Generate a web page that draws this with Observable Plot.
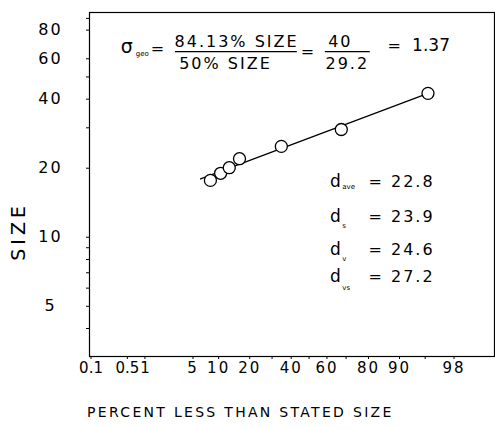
<!DOCTYPE html>
<html>
<head>
<meta charset="utf-8">
<script src="https://cdn.jsdelivr.net/npm/d3@7"></script>
<script src="https://cdn.jsdelivr.net/npm/@observablehq/plot@0.6"></script>
<style>
  html, body { margin: 0; padding: 0; background: white; }
  svg text { letter-spacing: 2px; }
</style>
</head>
<body>
<div id="chart"></div>
<script>
// ---- data ----
const percentLess = [8.1, 10.5, 12.9, 16.2, 34.7, 67.6, 95.4];
const sizes       = [17.7, 19.0, 20.1, 22.0, 24.9, 29.5, 42.4];

const fitPercent = [6.2, 95.4];
const fitSize    = [17.95, 42.4];

const xTickValues = [0.1, 0.5, 1, 5, 10, 20, 40, 60, 80, 90, 98];
const xTickLabels = ["0.1", "0.5", "1", "5", "10", "20", "40", "60", "80", "90", "98"];
const xMinorTicks = [30, 50, 70, 95];
const yTickValues = [5, 10, 20, 40, 60, 80];
const yTickLabels = ["5", "10", "20", "40", "60", "80"];
const yMinorTicks = [4, 6, 7, 8, 9, 30, 50, 90];

const xDomainPct = [0.093, 99.57];
const yDomain = [3.02, 95.5];

// annotation: sigma_geo formula
const formulaText = ["=", "84.13% SIZE", "50% SIZE", "=", "40", "29.2", "="];
const formulaPct  = [1.64, 15.2, 11.8, 49.6, 67.1, 70.6, 88.9];
const formulaSize = [66.6, 71.0, 57.2, 64.5, 71.0, 57.2, 68.5];
const sigma = "σ", sigmaPct = 0.51, sigmaSize = 67.9;
const sigmaSub = "geo", sigmaSubPct = 0.70, sigmaSubSize = 63.2;
const ratio = "1.37", ratioPct = 95.8, ratioSize = 68.5;
const fracBarLeft  = [2.91, 59.1];
const fracBarRight = [43.4, 80.7];
const fracBarSize  = 64.5;

// annotation: mean diameters
const dSubs   = ["ave", "s", "v", "vs"];
const dValues = ["= 22.8", "= 23.9", "= 24.6", "= 27.2"];
const dPct = 65.1, dSubPct = 68.1, dValuePct = 80.0;
const dSize    = [17.5, 12.3, 8.84, 6.74];
const dSubSize = [16.65, 11.25, 8.08, 6.04];

const xLabel = "PERCENT LESS THAN STATED SIZE";
const xLabelPct = 16.5;
const yLabel = "SIZE";
const yLabelSize = 7.9;

// ---- probability (normal quantile) transform ----
function probit(p) {
  const a = [-3.969683028665376e+01, 2.209460984245205e+02, -2.759285104469687e+02, 1.383577518672690e+02, -3.066479806614716e+01, 2.506628277459239e+00];
  const b = [-5.447609879822406e+01, 1.615858368580409e+02, -1.556989798598866e+02, 6.680131188771972e+01, -1.328068155288572e+01];
  const c = [-7.784894002430293e-03, -3.223964580411365e-01, -2.400758277161838e+00, -2.549732539343734e+00, 4.374664141464968e+00, 2.938163982698783e+00];
  const d = [7.784695709041462e-03, 3.224671290700398e-01, 2.445134137142996e+00, 3.754408661907416e+00];
  const pl = 0.02425, ph = 1 - pl;
  let q, r;
  if (p < pl) {
    q = Math.sqrt(-2 * Math.log(p));
    return (((((c[0]*q+c[1])*q+c[2])*q+c[3])*q+c[4])*q+c[5]) / ((((d[0]*q+d[1])*q+d[2])*q+d[3])*q+1);
  }
  if (p > ph) {
    q = Math.sqrt(-2 * Math.log(1 - p));
    return -(((((c[0]*q+c[1])*q+c[2])*q+c[3])*q+c[4])*q+c[5]) / ((((d[0]*q+d[1])*q+d[2])*q+d[3])*q+1);
  }
  q = p - 0.5; r = q * q;
  return (((((a[0]*r+a[1])*r+a[2])*r+a[3])*r+a[4])*r+a[5])*q / (((((b[0]*r+b[1])*r+b[2])*r+b[3])*r+b[4])*r+1);
}
const z = (pct) => probit(pct / 100);

const points = percentLess.map((p, i) => ({p, s: sizes[i]}));
const fit = fitPercent.map((p, i) => ({p, s: fitSize[i]}));

const chart = Plot.plot({
  width: 495,
  height: 429,
  marginLeft: 89,
  marginRight: 1,
  marginTop: 12,
  marginBottom: 73,
  style: {fontFamily: "'DejaVu Sans', sans-serif", fontSize: "16px", color: "black", background: "white"},
  x: {type: "linear", domain: xDomainPct.map(z)},
  y: {type: "log", domain: yDomain},
  marks: [
    Plot.frame({stroke: "black", strokeWidth: 1.2}),
    // tick marks
    Plot.axisX(xTickValues.concat(xMinorTicks).map(z), {tickSize: 3, label: null, tickFormat: () => ""}),
    Plot.axisY(yTickValues.concat(yMinorTicks), {tickSize: 3, label: null, tickFormat: () => ""}),
    // tick labels
    Plot.text(xTickValues, {x: d => z(d), frameAnchor: "bottom", dy: 16, text: (d, i) => xTickLabels[i], fontSize: 15, fill: "black"}),
    Plot.text(yTickValues, {y: d => d, frameAnchor: "left", dx: -39, text: (d, i) => yTickLabels[i], fontSize: 16, textAnchor: "middle", fill: "black"}),
    // fitted line and points
    Plot.line(fit, {x: d => z(d.p), y: "s", stroke: "black", strokeWidth: 1.3}),
    Plot.dot(points, {x: d => z(d.p), y: "s", r: 6, stroke: "black", fill: "white", strokeWidth: 1.3}),
    // formula
    Plot.text([sigma], {x: z(sigmaPct), y: sigmaSize, text: d => d, fontSize: 19, fill: "black"}),
    Plot.text([sigmaSub], {x: z(sigmaSubPct), y: sigmaSubSize, text: d => d, fontSize: 7, textAnchor: "start", fill: "black"}),
    Plot.text(formulaText, {x: (d, i) => z(formulaPct[i]), y: (d, i) => formulaSize[i], text: d => d, fontSize: 16, fill: "black"}),
    Plot.text([ratio], {x: z(ratioPct), y: ratioSize, text: d => d, fontSize: 17, fill: "black"}),
    Plot.ruleY(fracBarLeft, {y: fracBarSize, x1: d => z(d), x2: (d, i) => z(fracBarRight[i]), stroke: "black", strokeWidth: 1.3}),
    // mean diameters
    Plot.text(dSize, {x: z(dPct), y: d => d, text: () => "d", fontSize: 17, fill: "black"}),
    Plot.text(dSubs, {x: z(dSubPct), y: (d, i) => dSubSize[i], text: d => d, fontSize: 7, textAnchor: "start", fill: "black"}),
    Plot.text(dValues, {x: z(dValuePct), y: (d, i) => dSize[i], text: d => d, fontSize: 16, textAnchor: "start", fill: "black"}),
    // axis titles
    Plot.text([xLabel], {x: z(xLabelPct), frameAnchor: "bottom", dy: 60, text: d => d, fontSize: 14, fill: "black"}),
    Plot.text([yLabel], {frameAnchor: "left", y: yLabelSize, dx: -71, rotate: -90, text: d => d, fontSize: 19, fill: "black"})
  ]
});
const sel = d3.select(chart);
// small subscripts and narrow numerals set without extra spacing
sel.selectAll("text").filter(function() {
  return ["geo", "ave", "s", "v", "vs", "1.37", "0.5", "0.1", "1"].includes(this.textContent);
}).style("letter-spacing", "0px");
sel.selectAll("text").filter(function() { return this.textContent === yLabel; }).style("letter-spacing", "4px");
sel.selectAll("text").filter(function() { return this.textContent === xLabel; }).style("letter-spacing", "2.3px");
document.getElementById("chart").appendChild(chart);
</script>
</body>
</html>
